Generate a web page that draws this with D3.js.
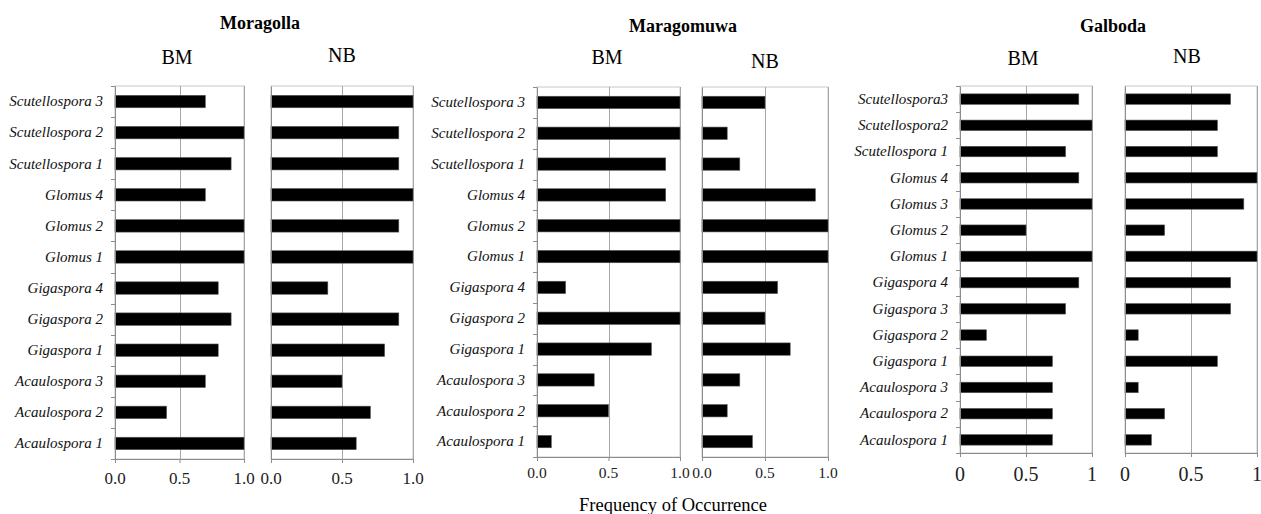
<!DOCTYPE html>
<html>
<head>
<meta charset="utf-8">
<script src="https://cdn.jsdelivr.net/npm/d3@7"></script>
<style>
  html, body { margin: 0; padding: 0; background: #fff; }
  svg { display: block; font-family: "Liberation Serif", "Times New Roman", serif; }
</style>
</head>
<body>
<svg id="chart" width="1261" height="514"></svg>
<script>
// ---- data: frequency of occurrence of AMF taxa, listed top to bottom ----
const moragollaTaxa = ["Scutellospora 3", "Scutellospora 2", "Scutellospora 1", "Glomus 4", "Glomus 2", "Glomus 1",
  "Gigaspora 4", "Gigaspora 2", "Gigaspora 1", "Acaulospora 3", "Acaulospora 2", "Acaulospora 1"];
const moragollaBM = [0.7, 1.0, 0.9, 0.7, 1.0, 1.0, 0.8, 0.9, 0.8, 0.7, 0.4, 1.0];
const moragollaNB = [1.0, 0.9, 0.9, 1.0, 0.9, 1.0, 0.4, 0.9, 0.8, 0.5, 0.7, 0.6];

const maragomuwaTaxa = ["Scutellospora 3", "Scutellospora 2", "Scutellospora 1", "Glomus 4", "Glomus 2", "Glomus 1",
  "Gigaspora 4", "Gigaspora 2", "Gigaspora 1", "Acaulospora 3", "Acaulospora 2", "Acaulospora 1"];
const maragomuwaBM = [1.0, 1.0, 0.9, 0.9, 1.0, 1.0, 0.2, 1.0, 0.8, 0.4, 0.5, 0.1];
const maragomuwaNB = [0.5, 0.2, 0.3, 0.9, 1.0, 1.0, 0.6, 0.5, 0.7, 0.3, 0.2, 0.4];

const galbodaTaxa = ["Scutellospora3", "Scutellospora2", "Scutellospora 1", "Glomus 4", "Glomus 3", "Glomus 2", "Glomus 1",
  "Gigaspora 4", "Gigaspora 3", "Gigaspora 2", "Gigaspora 1", "Acaulospora 3", "Acaulospora 2", "Acaulospora 1"];
const galbodaBM = [0.9, 1.0, 0.8, 0.9, 1.0, 0.5, 1.0, 0.9, 0.8, 0.2, 0.7, 0.7, 0.7, 0.7];
const galbodaNB = [0.8, 0.7, 0.7, 1.0, 0.9, 0.3, 1.0, 0.8, 0.8, 0.1, 0.7, 0.1, 0.3, 0.2];

const tickValues = [0, 0.5, 1];
const ticksLabelsDecimal = ["0.0", "0.5", "1.0"];
const ticksLabelsPlain = ["0", "0.5", "1"];

const axisTitle = "Frequency of Occurrence";

// ---- layout ----
const sites = [
  { name: "Moragolla", taxa: moragollaTaxa, bm: moragollaBM, nb: moragollaNB,
    titleX: 260, titleY: 23, top: 86, bottom: 459,
    bmX: [115, 244], nbX: [271, 413], bmLab: [177, 57], nbLab: [342, 55],
    tickLabels: ticksLabelsDecimal, tickSize: 17, tickY: 478, catSize: 15 },
  { name: "Maragomuwa", taxa: maragomuwaTaxa, bm: maragomuwaBM, nb: maragomuwaNB,
    titleX: 683, titleY: 26, top: 87, bottom: 457,
    bmX: [537, 680], nbX: [702, 828], bmLab: [607, 57], nbLab: [765, 61],
    tickLabels: ticksLabelsDecimal, tickSize: 15.5, tickY: 473, catSize: 15 },
  { name: "Galboda", taxa: galbodaTaxa, bm: galbodaBM, nb: galbodaNB,
    titleX: 1113, titleY: 26, top: 86, bottom: 453,
    bmX: [960, 1092], nbX: [1125, 1257], bmLab: [1023, 58], nbLab: [1187, 56],
    tickLabels: ticksLabelsPlain, tickSize: 20, tickY: 474, catSize: 15 }
];

const svg = d3.select("#chart");
const gridColor = "#a6a6a6";
const axisColor = "#8c8c8c";
const serif = "'Liberation Serif', 'Times New Roman', serif";

function drawPanel(site, values, xr, showCategories) {
  const g = svg.append("g");
  const x = d3.scaleLinear().domain([0, 1]).range(xr);
  const y = d3.scaleBand().domain(site.taxa).range([site.top, site.bottom]).paddingInner(0.6).paddingOuter(0.3);

  // plot frame
  g.append("rect")
    .attr("x", xr[0]).attr("y", site.top)
    .attr("width", xr[1] - xr[0]).attr("height", site.bottom - site.top)
    .attr("fill", "none").attr("stroke", "#c8c8c8").attr("stroke-width", 1);

  // vertical gridlines
  g.selectAll("line.grid").data(tickValues.slice(1)).join("line")
    .attr("class", "grid")
    .attr("x1", d => Math.round(x(d)) + 0.5).attr("x2", d => Math.round(x(d)) + 0.5)
    .attr("y1", site.top).attr("y2", site.bottom)
    .attr("stroke", gridColor).attr("stroke-width", 1);

  // bars
  g.selectAll("rect.bar").data(site.taxa.map((t, i) => ({ taxon: t, v: values[i] }))).join("rect")
    .attr("class", "bar")
    .attr("x", x(0))
    .attr("y", d => y(d.taxon))
    .attr("width", d => x(d.v) - x(0))
    .attr("height", y.bandwidth())
    .attr("fill", "#000").attr("stroke", "#555").attr("stroke-width", 0.6);

  // x axis
  const xAxis = d3.axisBottom(x).tickValues(tickValues).tickSize(4);
  const ax = g.append("g").attr("transform", `translate(0,${site.bottom})`).call(xAxis);
  ax.select(".domain").attr("stroke", axisColor);
  ax.selectAll(".tick line").attr("stroke", axisColor);
  ax.selectAll(".tick text").remove();
  g.selectAll("text.xtick").data(tickValues).join("text")
    .attr("class", "xtick")
    .attr("x", d => x(d)).attr("y", site.tickY)
    .attr("dy", "0.35em")
    .attr("text-anchor", "middle")
    .attr("font-size", site.tickSize)
    .attr("font-family", serif)
    .attr("fill", "#222")
    .text((d, i) => site.tickLabels[i]);

  // y axis
  const yAxis = d3.axisLeft(y).tickSize(0).tickPadding(12);
  const ay = g.append("g").attr("transform", `translate(${xr[0]},0)`).call(yAxis)
    .attr("font-family", serif).attr("font-size", site.catSize);
  ay.select(".domain").attr("stroke", axisColor);
  ay.selectAll(".tick line").remove();
  ay.selectAll(".tick text")
    .attr("font-style", "italic")
    .attr("fill", "#111");
  if (!showCategories) {
    ay.selectAll(".tick text").remove();
  } else {
    // category boundary ticks on the left axis
    const bounds = d3.range(site.taxa.length + 1).map(i => site.top + i * (site.bottom - site.top) / site.taxa.length);
    g.selectAll("line.ytick").data(bounds).join("line")
      .attr("class", "ytick")
      .attr("x1", xr[0] - 4).attr("x2", xr[0])
      .attr("y1", d => Math.round(d) + 0.5).attr("y2", d => Math.round(d) + 0.5)
      .attr("stroke", axisColor);
  }
}

sites.forEach(site => {
  drawPanel(site, site.bm, site.bmX, true);
  drawPanel(site, site.nb, site.nbX, false);

  svg.append("text")
    .attr("x", site.titleX).attr("y", site.titleY).attr("dy", "0.35em")
    .attr("text-anchor", "middle").attr("font-weight", "bold").attr("font-size", 18)
    .text(site.name);
  svg.append("text")
    .attr("x", site.bmLab[0]).attr("y", site.bmLab[1]).attr("dy", "0.35em")
    .attr("text-anchor", "middle").attr("font-size", 20)
    .text("BM");
  svg.append("text")
    .attr("x", site.nbLab[0]).attr("y", site.nbLab[1]).attr("dy", "0.35em")
    .attr("text-anchor", "middle").attr("font-size", 20)
    .text("NB");
});

svg.append("text")
  .attr("x", 673).attr("y", 505).attr("dy", "0.35em")
  .attr("text-anchor", "middle").attr("font-size", 18.5)
  .text(axisTitle);
</script>
</body>
</html>
